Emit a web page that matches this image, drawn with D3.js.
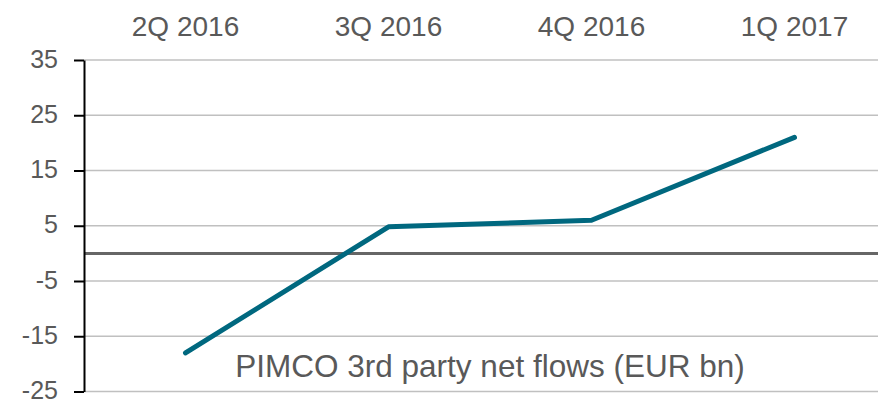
<!DOCTYPE html>
<html>
<head>
<meta charset="utf-8">
<script src="https://cdn.jsdelivr.net/npm/d3@7"></script>
<style>
  html, body { margin: 0; padding: 0; background: #fff; }
  svg { display: block; font-family: "Liberation Sans", Arial, sans-serif; }
</style>
</head>
<body>
<div class="chart"></div>
<script>
// 数据
let quarters = ['2Q 2016', '3Q 2016', '4Q 2016', '1Q 2017']
let netFlows = [-18, 4.8, 6, 21]
let yTicks = [-25, -15, -5, 5, 15, 25, 35]
let seriesName = 'PIMCO 3rd party net flows (EUR bn)'

let width = 878
let height = 400

let svg = d3.select('.chart')
  .append('svg')
  .attr('width', width)
  .attr('height', height)

// 比例尺：绘图区右侧超出画布
let x = d3.scalePoint()
  .domain(quarters)
  .range([84, 896])
  .padding(0.5)

let y = d3.scaleLinear()
  .domain([-25, 35])
  .range([391.5, 60])

// 网格线
svg.append('g')
  .attr('class', 'grid')
  .selectAll('line')
  .data(yTicks)
  .enter()
  .append('line')
  .attr('x1', 84)
  .attr('x2', width)
  .attr('y1', d => y(d))
  .attr('y2', d => y(d))
  .attr('stroke', '#c0c0c0')
  .attr('stroke-width', 1.5)

// 零线
svg.append('line')
  .attr('x1', 84)
  .attr('x2', width)
  .attr('y1', y(0))
  .attr('y2', y(0))
  .attr('stroke', '#666666')
  .attr('stroke-width', 3)

// y轴（用普通连字符作负号）
let yAxis = svg.append('g')
  .attr('transform', 'translate(84,0)')
  .call(d3.axisLeft(y)
    .tickValues(yTicks)
    .tickFormat(d => String(d))
    .tickSize(10)
    .tickPadding(16)
    .tickSizeOuter(0))
yAxis.select('.domain').attr('stroke', '#000').attr('stroke-width', 2)
yAxis.selectAll('.tick line').attr('stroke', '#000').attr('stroke-width', 2)
yAxis.selectAll('.tick text')
  .attr('fill', '#595959')
  .attr('font-size', '25px')
  .attr('dy', '0.28em')

// x轴标签（顶部）
svg.append('g')
  .selectAll('text')
  .data(quarters)
  .enter()
  .append('text')
  .attr('x', d => x(d))
  .attr('y', 36)
  .attr('text-anchor', 'middle')
  .attr('font-size', '28px')
  .attr('fill', '#595959')
  .text(d => d)

// 折线
let line = d3.line()
  .x((d, i) => x(quarters[i]))
  .y(d => y(d))

svg.append('path')
  .datum(netFlows)
  .attr('d', line)
  .attr('fill', 'none')
  .attr('stroke', '#00687f')
  .attr('stroke-width', 5)
  .attr('stroke-linecap', 'round')
  .attr('stroke-linejoin', 'round')

// 系列名称
svg.append('text')
  .attr('x', 490)
  .attr('y', 377)
  .attr('text-anchor', 'middle')
  .attr('font-size', '31.5px')
  .attr('fill', '#595959')
  .text(seriesName)
</script>
</body>
</html>
